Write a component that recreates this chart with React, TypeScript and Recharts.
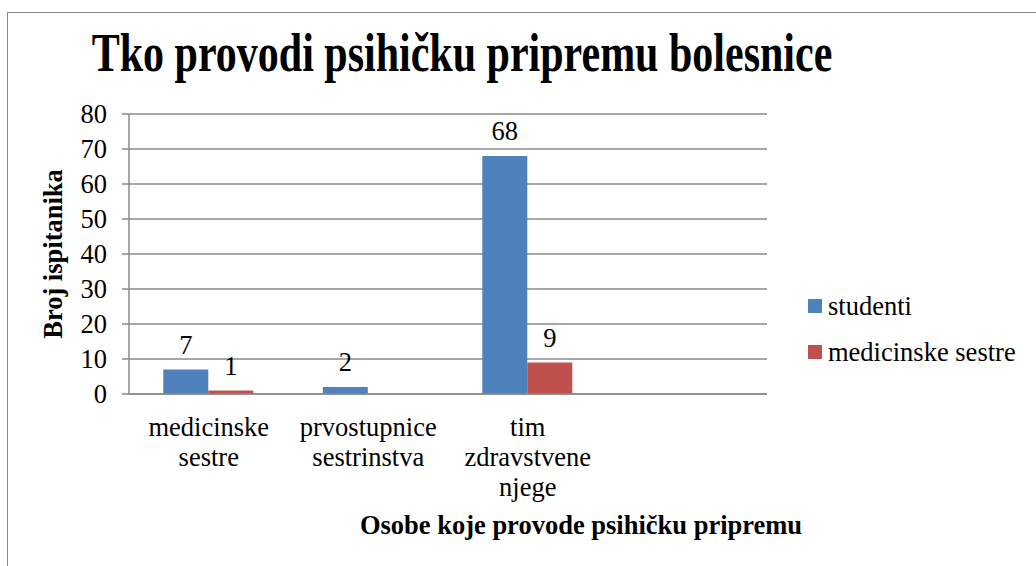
import React from "react";
import {
  BarChart,
  Bar,
  XAxis,
  YAxis,
  CartesianGrid,
  Legend,
  LabelList,
  Label,
} from "recharts";

const categories = [
  "medicinske sestre",
  "prvostupnice sestrinstva",
  "tim zdravstvene njege",
  "",
];
const studenti = [7, 2, 68, null];
const medicinskeSestre = [1, null, 9, null];
const yTicks = [0, 10, 20, 30, 40, 50, 60, 70, 80];

const data = categories.map((name, i) => ({
  name,
  studenti: studenti[i],
  medicinskeSestre: medicinskeSestre[i],
}));

const FONT = '"Liberation Serif", "Times New Roman", serif';
const GRID = "#8a8a8a";
const BLUE = "#4F81BD";
const RED = "#C0504D";

// multi-line category labels, one word per line
const CategoryTick = ({ x, y, payload }: any) => {
  const lines = String(payload.value).split(" ").filter(Boolean);
  return (
    <text
      x={x}
      y={y}
      textAnchor="middle"
      fill="#000"
      fontFamily={FONT}
      fontSize={26.5}
    >
      {lines.map((line, i) => (
        <tspan key={i} x={x} dy={i === 0 ? 42 : 30}>
          {line}
        </tspan>
      ))}
    </text>
  );
};

const LegendContent = () => {
  const items = [
    { label: "studenti", color: BLUE },
    { label: "medicinske sestre", color: RED },
  ];
  return (
    <div style={{ fontFamily: FONT, fontSize: 26.5, color: "#000" }}>
      {items.map((it) => (
        <div
          key={it.label}
          style={{ height: 46, display: "flex", alignItems: "center" }}
        >
          <span
            style={{
              width: 14,
              height: 14,
              background: it.color,
              display: "inline-block",
              marginRight: 6,
            }}
          />
          <span style={{ whiteSpace: "nowrap" }}>{it.label}</span>
        </div>
      ))}
    </div>
  );
};

export default function App() {
  return (
    <div
      style={{
        position: "absolute",
        left: 0,
        top: 0,
        width: 1036,
        height: 566,
        background: "#fff",
        overflow: "hidden",
      }}
    >
      {/* chart frame, only left and top edges are visible */}
      <div
        style={{
          position: "absolute",
          left: 7,
          top: 12,
          width: 1100,
          height: 600,
          borderLeft: `1px solid ${GRID}`,
          borderTop: `1px solid ${GRID}`,
        }}
      />
      <div
        style={{
          position: "absolute",
          left: 0,
          width: 924,
          top: 22,
          textAlign: "center",
          fontFamily: FONT,
          fontWeight: "bold",
          fontSize: 42,
          lineHeight: "48px",
          transform: "scaleY(1.3)",
          transformOrigin: "center top",
          whiteSpace: "nowrap",
        }}
      >
        Tko provodi psihičku pripremu bolesnice
      </div>
      <div style={{ position: "absolute", left: 0, top: 0 }}>
        <BarChart
          width={1036}
          height={566}
          data={data}
          margin={{ top: 114, right: 269, bottom: 0, left: 0 }}
          barGap={0}
          barCategoryGap="21.5%"
        >
          <CartesianGrid
            vertical={false}
            stroke={GRID}
            strokeWidth={1.5}
          />
          <XAxis
            dataKey="name"
            height={172}
            tickLine={false}
            tickSize={0}
            tickMargin={0}
            axisLine={{ stroke: GRID, strokeWidth: 1.5 }}
            tick={<CategoryTick />}
            interval={0}
          >
            <Label
              value="Osobe koje provode psihičku pripremu"
              position="insideBottom"
              offset={32}
              dx={133}
              fill="#000"
              fontFamily={FONT}
              fontWeight="bold"
              fontSize={26.5}
            />
          </XAxis>
          <YAxis
            width={129}
            domain={[0, 80]}
            ticks={yTicks}
            interval={0}
            tickSize={7}
            tickMargin={15}
            tickLine={{ stroke: GRID, strokeWidth: 1.5 }}
            axisLine={{ stroke: GRID, strokeWidth: 1.5 }}
            tick={{ fill: "#000", fontFamily: FONT, fontSize: 26.5 }}
          >
            <Label
              content={() => (
                <text
                  transform="translate(62,254) rotate(-90)"
                  textAnchor="middle"
                  fill="#000"
                  fontFamily={FONT}
                  fontWeight="bold"
                  fontSize={26.5}
                >
                  Broj ispitanika
                </text>
              )}
            />
          </YAxis>
          <Legend
            layout="vertical"
            align="center"
            verticalAlign="middle"
            content={<LegendContent />}
            wrapperStyle={{ left: 808, top: 283, width: "auto" }}
          />
          <Bar
            dataKey="studenti"
            name="studenti"
            fill={BLUE}
            isAnimationActive={false}
          >
            <LabelList
              dataKey="studenti"
              position="top"
              offset={16}
              fill="#000"
              fontFamily={FONT}
              fontSize={26.5}
            />
          </Bar>
          <Bar
            dataKey="medicinskeSestre"
            name="medicinske sestre"
            fill={RED}
            isAnimationActive={false}
          >
            <LabelList
              dataKey="medicinskeSestre"
              position="top"
              offset={16}
              fill="#000"
              fontFamily={FONT}
              fontSize={26.5}
            />
          </Bar>
        </BarChart>
      </div>
    </div>
  );
}
